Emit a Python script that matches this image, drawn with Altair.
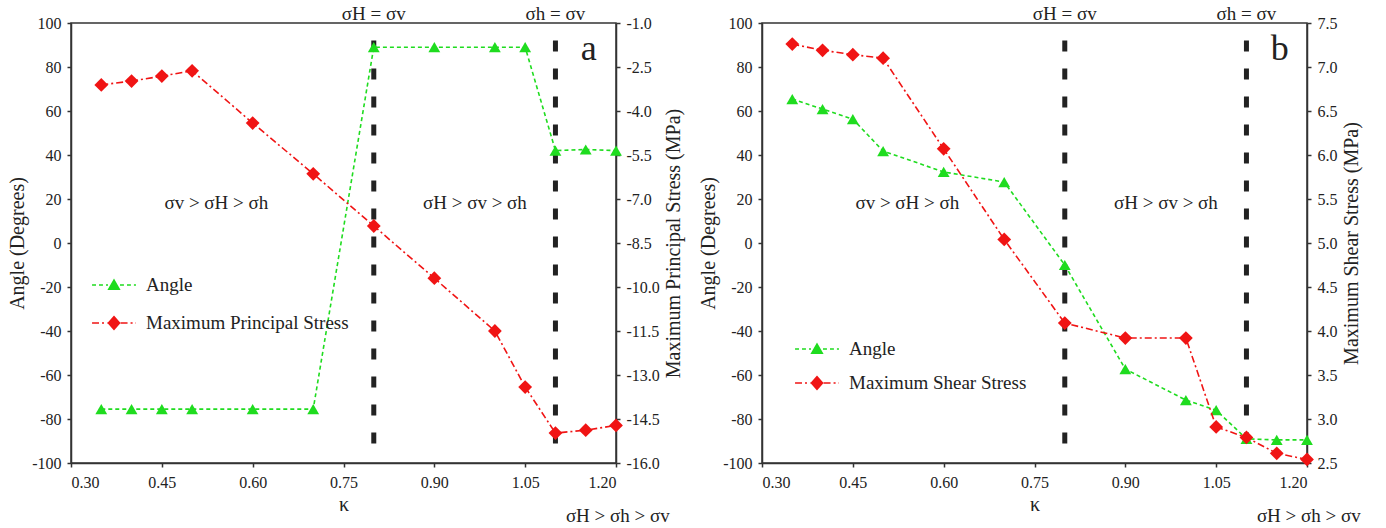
import altair as alt
import pandas as pd

# ---------------- data ----------------
kappa = [0.35, 0.40, 0.45, 0.50, 0.60, 0.70, 0.80, 0.90, 1.00, 1.05, 1.10, 1.15, 1.20]
angle_a = [-75.5, -75.5, -75.5, -75.5, -75.5, -75.5, 89, 89, 89, 89, 42, 42.5, 42]
stress_a = [-3.11, -2.98, -2.81, -2.63, -4.41, -6.14, -7.92, -9.70, -11.50, -13.41, -14.98, -14.88, -14.72]
angle_b = [65.4, 60.9, 56.3, 41.8, 32.3, 27.7, -10, -57.3, -71.4, -76, -89, -89.5, -89.5]
shear_b = [7.26, 7.19, 7.14, 7.10, 6.07, 5.04, 4.09, 3.92, 3.92, 2.91, 2.79, 2.61, 2.54]

x_ticks = [0.30, 0.45, 0.60, 0.75, 0.90, 1.05, 1.20]
angle_ticks = [-100, -80, -60, -40, -20, 0, 20, 40, 60, 80, 100]
stress_ticks = [-16.0, -14.5, -13.0, -11.5, -10.0, -8.5, -7.0, -5.5, -4.0, -2.5, -1.0]
shear_ticks = [2.5, 3.0, 3.5, 4.0, 4.5, 5.0, 5.5, 6.0, 6.5, 7.0, 7.5]

boundary_k = [0.80, 1.10]
boundary_top = ["σH = σv", "σh = σv"]
region_labels = ["σv > σH > σh", "σH > σv >  σh"]
region_k = [0.54, 0.967]
region_angle = [18, 18]
right_label = "σH > σh > σv"

SERIF = "Liberation Serif"
GREEN = "#1fdc1f"
RED = "#f01414"
INK = "#222222"
TXT = 19

# ---------------- legend symbol paths (unit space) ----------------
def dashes(x0, x1, pattern, h=0.065):
    segs = []
    x = x0
    i = 0
    while x < x1 - 1e-6:
        L = pattern[i % len(pattern)]
        if i % 2 == 0:
            e = min(x + L, x1)
            segs.append(f"M{x:.3f},{-h:.3f}H{e:.3f}V{h:.3f}H{x:.3f}Z")
        x += L
        i += 1
    return "".join(segs)

g_pat = [0.33, 0.25]
r_pat = [0.58, 0.25, 0.17, 0.25]
tri_path = dashes(-1.83, -0.5, g_pat) + "M0,-0.55L0.55,0.42L-0.55,0.42Z" + dashes(0.5, 1.83, g_pat)
dia_path = dashes(-1.83, -0.55, r_pat) + "M0,-0.62L0.55,0L0,0.62L-0.55,0Z" + dashes(0.55, 1.83, r_pat)

x_scale = alt.Scale(domain=[0.3, 1.2], nice=False, zero=False)
ang_scale = alt.Scale(domain=[-100, 100], nice=False, zero=False)

axis_style = dict(labelFont=SERIF, labelFontSize=16, labelColor=INK, titleFont=SERIF, titleFontSize=20,
                  titleFontWeight="normal", titleColor=INK, domainColor="#333333", domainWidth=1.5,
                  tickColor="#333333", tickWidth=1.5, tickSize=4, grid=False)

x_axis = alt.Axis(values=x_ticks, format=".2f", title="κ", titlePadding=4, labelPadding=7, **axis_style)
ang_axis = alt.Axis(values=angle_ticks, labelExpr="'' + datum.value", title="Angle (Degrees)", orient="left",
                    titlePadding=4, labelPadding=6, **axis_style)


def X(field):
    return alt.X(field, type="quantitative", scale=x_scale, axis=x_axis)


def YA(field):
    return alt.Y(field, type="quantitative", scale=ang_scale, axis=ang_axis)


def panel(angle_vals, stress_vals, stress_name, stress_domain, stress_ticks_, letter, legend_x, legend_y, row_pad):
    df = pd.DataFrame({"k": kappa, "angle": angle_vals, "stress": stress_vals})
    names = ["Angle", stress_name]

    bdf = pd.DataFrame({"k": boundary_k, "top": [92, 92], "bot": [-92, -92], "label": boundary_top,
                        "ly": [104.3, 104.3]})
    rdf = pd.DataFrame({"k": region_k, "angle": region_angle, "label": region_labels})

    rules = alt.Chart(bdf).mark_rule(color=INK, strokeWidth=5, strokeDash=[11, 17]).encode(
        x=X("k"), y=YA("top"), y2="bot:Q",
    )
    top_txt = alt.Chart(bdf).mark_text(font=SERIF, fontSize=TXT, color=INK, baseline="middle").encode(
        x=X("k"), y=YA("ly"), text="label:N",
    )
    reg_txt = alt.Chart(rdf).mark_text(font=SERIF, fontSize=TXT, color=INK, baseline="middle").encode(
        x=X("k"), y=YA("angle"), text="label:N",
    )
    letter_txt = alt.Chart(pd.DataFrame({"k": [1.155], "angle": [88], "t": [letter]})).mark_text(
        font=SERIF, fontSize=36, color=INK, baseline="middle").encode(
        x=X("k"), y=YA("angle"), text="t:N",
    )
    br_txt = alt.Chart(pd.DataFrame({"k": [1.203], "angle": [-124], "t": [right_label]})).mark_text(
        font=SERIF, fontSize=TXT, color=INK, baseline="middle").encode(
        x=X("k"), y=YA("angle"), text="t:N",
    )

    ang_line = alt.Chart(df).mark_line(color=GREEN, strokeWidth=1.6, strokeDash=[4, 3]).encode(
        x=X("k"), y=YA("angle"),
    )
    ang_pts = alt.Chart(df).mark_point(shape="triangle-up", filled=True, size=140, color=GREEN, opacity=1).encode(
        x=X("k"), y=YA("angle"),
    )

    leg = alt.Legend(title=None, orient="none", legendX=legend_x, legendY=legend_y, symbolSize=576,
                     labelOffset=20, rowPadding=row_pad, labelFont=SERIF, labelFontSize=19, labelColor=INK,
                     padding=0, symbolStrokeWidth=0, symbolOpacity=1, labelLimit=400)
    legend_layer = alt.Chart(df).transform_filter("datum.k < 0").transform_calculate(
        series="'Angle'").mark_point(filled=True, opacity=1).encode(
        x=X("k"), y=YA("angle"),
        color=alt.Color("series:N", scale=alt.Scale(domain=names, range=[GREEN, RED]), legend=leg),
        shape=alt.Shape("series:N", scale=alt.Scale(domain=names, range=[tri_path, dia_path]), legend=leg),
    )

    left = alt.layer(rules, ang_line, ang_pts, reg_txt, top_txt, letter_txt, br_txt, legend_layer)

    s_scale = alt.Scale(domain=stress_domain, nice=False, zero=False)
    s_axis = alt.Axis(values=stress_ticks_, labelExpr="replace(format(datum.value, '.1f'), '\u2212', '-')",
                      title=stress_name + " (MPa)", orient="right",
                      titleAngle=270, titleBaseline="top", titlePadding=4, labelPadding=6, **axis_style)
    s_line = alt.Chart(df).mark_line(color=RED, strokeWidth=1.6, strokeDash=[7, 3, 2, 3]).encode(
        x=X("k"), y=alt.Y("stress:Q", scale=s_scale, axis=s_axis),
    )
    s_pts = alt.Chart(df).mark_point(shape="diamond", filled=True, size=190, color=RED, opacity=1).encode(
        x=X("k"), y=alt.Y("stress:Q", scale=s_scale, axis=s_axis),
    )
    right = alt.layer(s_line, s_pts)

    return alt.layer(left, right).resolve_scale(y="independent").properties(width=545, height=440)


panel_a = panel(angle_a, stress_a, "Maximum Principal Stress", [-16, -1], stress_ticks, "a", 31, 250, 16)
panel_b = panel(angle_b, shear_b, "Maximum Shear Stress", [2.5, 7.5], shear_ticks, "b", 43, 314, 12)

chart = alt.hconcat(panel_a, panel_b, spacing=12).resolve_scale(
    color="independent", shape="independent"
).resolve_legend(color="independent", shape="independent").properties(
    padding={"left": 6, "top": 3, "right": 5, "bottom": 5}
).configure(font=SERIF).configure_view(stroke="#333333", strokeWidth=1.5).configure_axis(
    labelFont=SERIF, titleFont=SERIF
).configure_legend(labelFont=SERIF).configure_text(font=SERIF)

chart.save("out.html", embed_options={"renderer": "svg", "actions": False})
